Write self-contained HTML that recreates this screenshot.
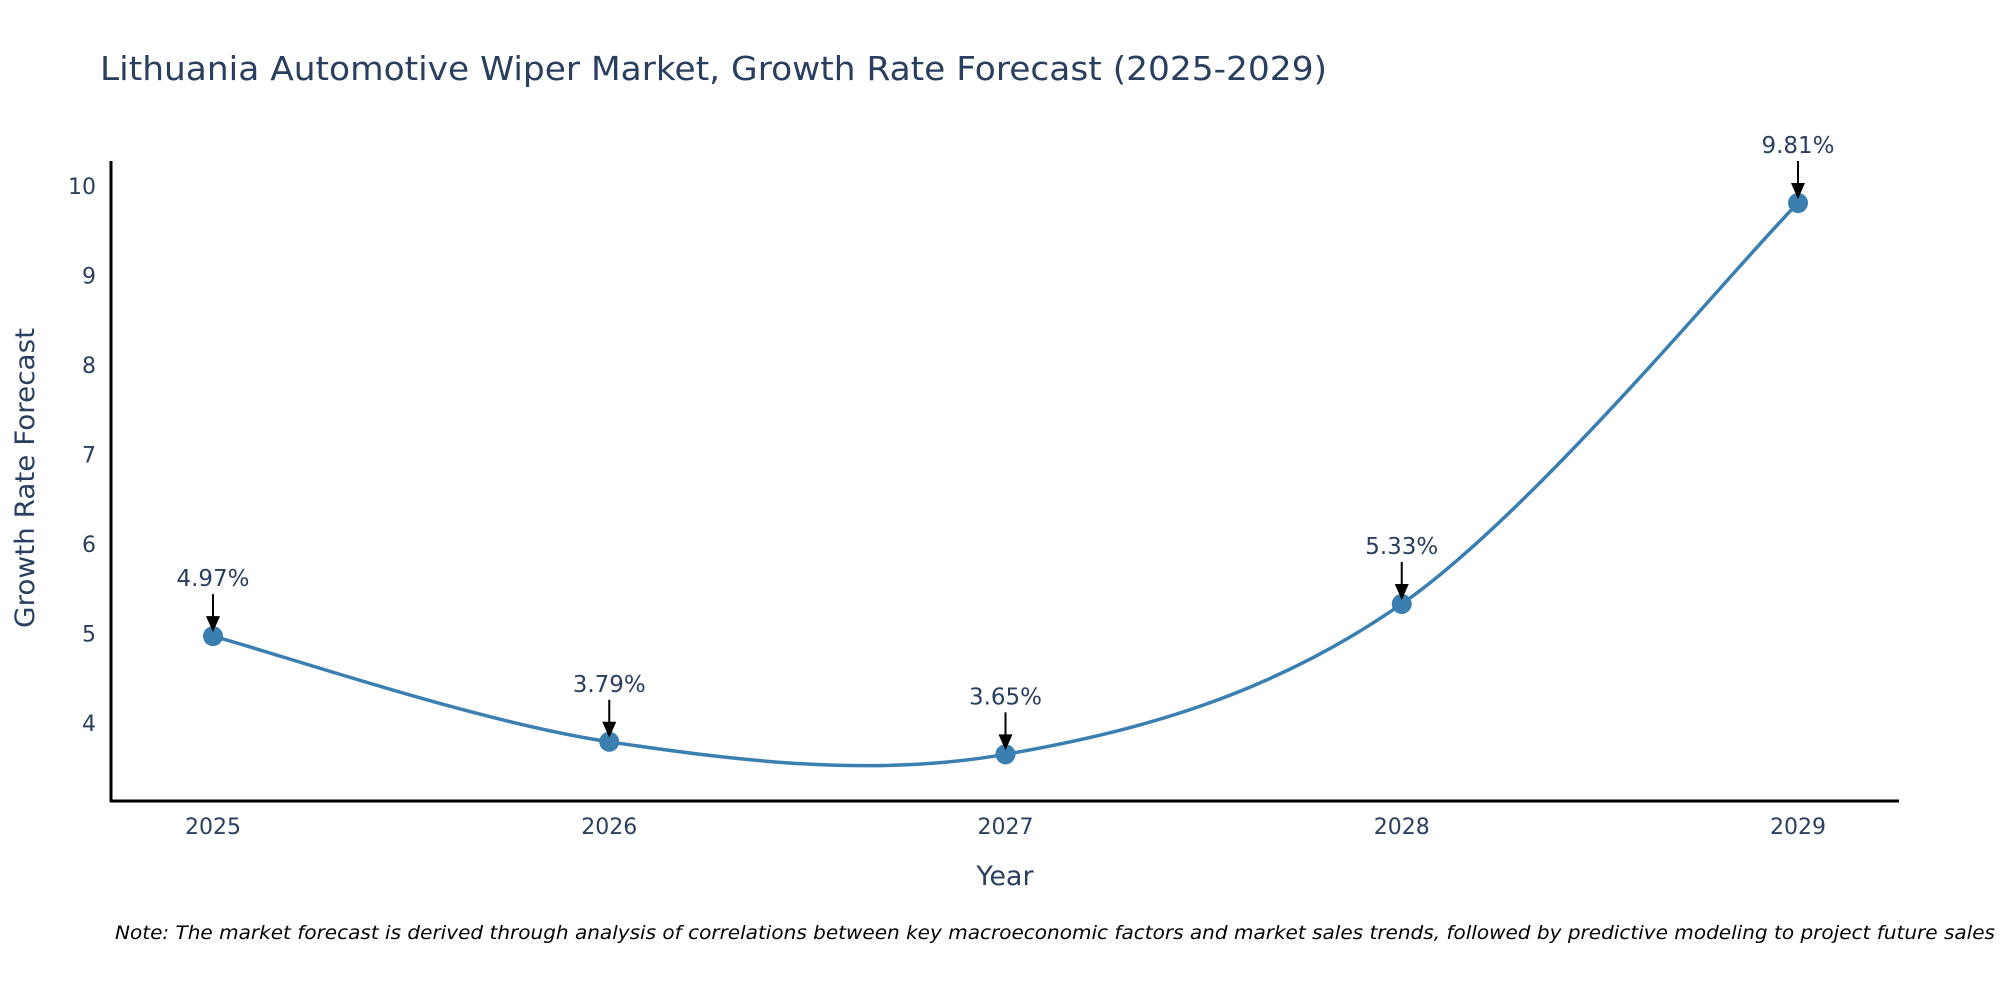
<!DOCTYPE html>
<html><head><meta charset="utf-8"><style>
body{margin:0;background:#fff;}
svg text{font-family:"DejaVu Sans","Liberation Sans",sans-serif;fill:#2a3f5f;}
</style></head><body>
<svg id="chart" width="2000" height="1000" viewBox="0 0 2000 1000" xmlns="http://www.w3.org/2000/svg">
<rect width="2000" height="1000" fill="#fff"/>
<text x="100" y="80" font-size="33" textLength="1227" lengthAdjust="spacingAndGlyphs">Lithuania Automotive Wiper Market, Growth Rate Forecast (2025-2029)</text>
<g id="yticks"></g>
<g id="xticks"></g>
<line x1="111" y1="161" x2="111" y2="802" stroke="#000" stroke-width="3"/>
<line x1="110" y1="801" x2="1899" y2="801" stroke="#000" stroke-width="3"/>
<text transform="translate(34,478) rotate(-90)" text-anchor="middle" font-size="27" textLength="300" lengthAdjust="spacingAndGlyphs">Growth Rate Forecast</text>
<text x="1005" y="885" text-anchor="middle" font-size="27">Year</text>
<g id="series"></g>
<g id="annots"></g>
<text x="115" y="939" font-size="19" font-style="italic" textLength="1880" lengthAdjust="spacingAndGlyphs" style="fill:#000">Note: The market forecast is derived through analysis of correlations between key macroeconomic factors and market sales trends, followed by predictive modeling to project future sales</text>
</svg>
<script>
const years = [2025, 2026, 2027, 2028, 2029];
const growth = [4.97, 3.79, 3.65, 5.33, 9.81];
const yTickValues = [4, 5, 6, 7, 8, 9, 10];
const NS = "http://www.w3.org/2000/svg";
function xScale(v){ return 213 + (v - 2025) * 396.25; }
function yScale(v){ return 723 - (v - 4) * 89.5; }
function mk(tag, attrs, parent){ const e=document.createElementNS(NS,tag); for(const k in attrs) e.setAttribute(k, attrs[k]); parent.appendChild(e); return e; }
const yt=document.getElementById('yticks');
yTickValues.forEach(v=>{
  const t=mk('text',{x:96,y:yScale(v)+8,'text-anchor':'end','font-size':'22'},yt);
  
  
  t.textContent=v;
});
const xt=document.getElementById('xticks');
years.forEach(v=>{
  const t=mk('text',{x:xScale(v),y:834,'text-anchor':'middle','font-size':'22'},xt);
  
  
  t.textContent=v;
});
const pts=years.map((y,i)=>[xScale(y),yScale(growth[i])]);
let d='M'+pts[0][0]+','+pts[0][1];
for(let i=0;i<pts.length-1;i++){
  const p0=pts[Math.max(0,i-1)],p1=pts[i],p2=pts[i+1],p3=pts[Math.min(pts.length-1,i+2)];
  const c1=[p1[0]+(p2[0]-p0[0])/6,p1[1]+(p2[1]-p0[1])/6];
  const c2=[p2[0]-(p3[0]-p1[0])/6,p2[1]-(p3[1]-p1[1])/6];
  d+=' C'+c1[0]+','+c1[1]+' '+c2[0]+','+c2[1]+' '+p2[0]+','+p2[1];
}
const s=document.getElementById('series');
const line=mk('path',{d:d,fill:'none',stroke:'#3a7fb0','stroke-width':'3.5'},s);


const an=document.getElementById('annots');
pts.forEach((p,i)=>{
  const c=mk('circle',{cx:p[0],cy:p[1],r:10,fill:'#3a7fb0'},s);
  
  
  const a=mk('line',{x1:p[0],y1:p[1]-42,x2:p[0],y2:p[1]-18,stroke:'#000','stroke-width':'2'},an);
  
  
  const h=mk('polygon',{points:(p[0]-7)+','+(p[1]-20)+' '+(p[0]+7)+','+(p[1]-20)+' '+p[0]+','+(p[1]-4),fill:'#000'},an);
  
  
  const t=mk('text',{x:p[0],y:p[1]-50,'text-anchor':'middle','font-size':'23'},an);
  
  
  t.textContent=growth[i].toFixed(2)+'%';
});
</script>
</body></html>
